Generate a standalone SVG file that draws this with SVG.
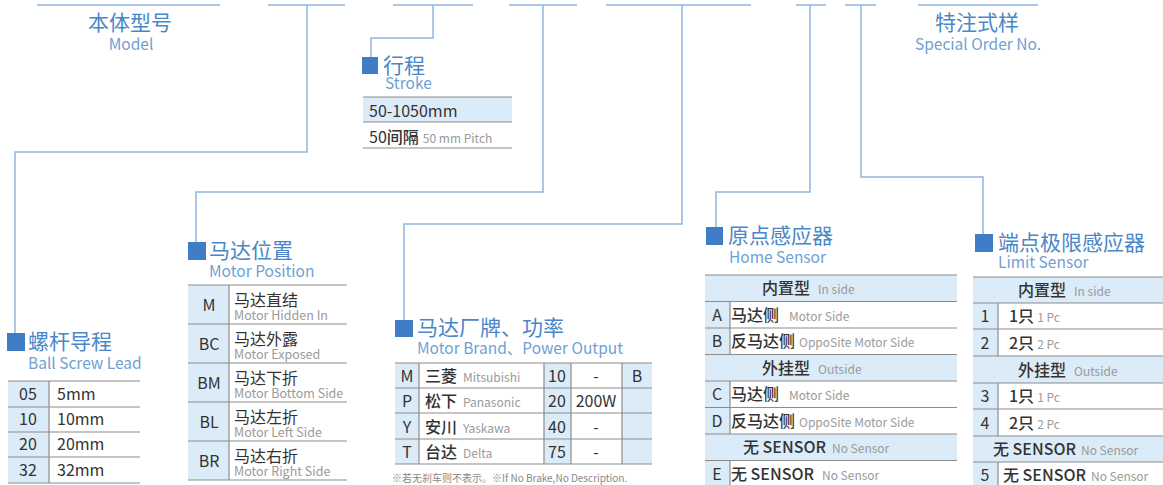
<svg xmlns="http://www.w3.org/2000/svg" width="1163" height="485" viewBox="0 0 1163 485">
<style>
text{font-family:"Noto Sans CJK SC","Noto Sans",sans-serif}
.ln{stroke:#8fb5de;stroke-width:1.5;fill:none}
.sq{fill:#3f7ec6}
.h1{font-size:21px;fill:#4a87c9}
.h2{font-size:15.5px;fill:#6f9fd4}
.bg{fill:#dcebf8}
.tl{stroke:#8c8c8c;stroke-width:1.2;fill:none}
.t{font-size:16px;fill:#333;font-weight:400}
.b{font-weight:500}
.e{font-size:12px;fill:#9a9a9a;font-weight:400}
.c{text-anchor:middle}
.note{font-size:10px;fill:#888}
</style>

<g id="connectors">
<path class="ln" d="M37,5H220M268,5H345M393,5H473M509,5H577M606,5H751M796,5H826M845,5H876M918,5H1038"/>
<path class="ln" d="M307,5V152H15V333"/>
<path class="ln" d="M433,5V38H371V57"/>
<path class="ln" d="M543,5V192H196V242"/>
<path class="ln" d="M682,5V224H404V320"/>
<path class="ln" d="M810,5V192H716V227"/>
<path class="ln" d="M861,5V177H983V234"/>
</g>

<g id="model">
<text class="h1 c" x="130" y="30">本体型号</text>
<text class="h2 c" x="131" y="50">Model</text>
</g>

<g id="special">
<text class="h1 c" x="977" y="30">特注式样</text>
<text class="h2 c" x="978" y="50">Special Order No.</text>
</g>

<g id="stroke">
<rect class="sq" x="362" y="57" width="16" height="17"/>
<text class="h1" x="383" y="73">行程</text>
<text class="h2" x="385" y="89">Stroke</text>
<rect class="bg" x="363" y="97" width="149" height="25"/>
<path class="tl" d="M363,97H512M363,122H512M363,148H512"/>
<text class="t" x="369" y="117">50-1050mm</text>
<text class="t" x="369" y="143">50<tspan class="b">间隔</tspan><tspan class="e" dx="4">50 mm Pitch</tspan></text>
</g>

<g id="ballscrew">
<rect class="sq" x="7" y="333" width="18" height="18"/>
<text class="h1" x="28" y="349">螺杆导程</text>
<text class="h2" x="28" y="369">Ball Screw Lead</text>
<rect class="bg" x="8" y="381" width="41" height="102"/>
<path class="tl" d="M8,381H140M8,407H140M8,432H140M8,457H140M8,483H140M49,381V483"/>
<g class="t">
<text class="c" x="28" y="400">05</text><text x="57" y="400">5mm</text>
<text class="c" x="28" y="425">10</text><text x="57" y="425">10mm</text>
<text class="c" x="28" y="450">20</text><text x="57" y="450">20mm</text>
<text class="c" x="28" y="476">32</text><text x="57" y="476">32mm</text>
</g>
</g>

<g id="motorposition">
<rect class="sq" x="188" y="242" width="18" height="18"/>
<text class="h1" x="209" y="258">马达位置</text>
<text class="h2" x="209" y="277">Motor Position</text>
<rect class="bg" x="188" y="285" width="41" height="195"/>
<path class="tl" d="M188,285H347M188,324H347M188,363H347M188,402H347M188,441H347M188,480H347M229,285V480"/>
<g class="t">
<text class="c" x="209" y="311">M</text>
<text x="234" y="306">马达直结</text>
<text class="c" x="209" y="350">BC</text>
<text x="234" y="345">马达外露</text>
<text class="c" x="209" y="389">BM</text>
<text x="234" y="384">马达下折</text>
<text class="c" x="209" y="428">BL</text>
<text x="234" y="423">马达左折</text>
<text class="c" x="209" y="467">BR</text>
<text x="234" y="462">马达右折</text>
</g>
<g class="e" style="font-size:12.5px">
<text x="234" y="320">Motor Hidden In</text>
<text x="234" y="359">Motor Exposed</text>
<text x="234" y="398">Motor Bottom Side</text>
<text x="234" y="437">Motor Left Side</text>
<text x="234" y="476">Motor Right Side</text>
</g>
</g>

<g id="motorbrand">
<rect class="sq" x="395" y="320" width="18" height="17"/>
<text class="h1" x="417" y="335">马达厂牌、功率</text>
<text class="h2" x="417" y="354">Motor Brand、Power Output</text>
<rect class="bg" x="395" y="363" width="24" height="101"/>
<rect class="bg" x="544" y="363" width="27" height="101"/>
<rect class="bg" x="622" y="363" width="30" height="101"/>
<path class="tl" d="M395,363H652M395,388H652M395,413H652M395,439H652M395,464H652M419,363V464M544,363V464M571,363V464M622,363V464"/>
<g class="t">
<text class="c" x="407" y="382">M</text><text class="b" x="425" y="382">三菱<tspan class="e" dx="6">Mitsubishi</tspan></text>
<text class="c" x="557" y="382">10</text><text class="c" x="596" y="382">-</text><text class="c" x="637" y="382">B</text>
<text class="c" x="407" y="407">P</text><text class="b" x="425" y="407">松下<tspan class="e" dx="6">Panasonic</tspan></text>
<text class="c" x="557" y="407">20</text><text class="c" x="596" y="407">200W</text>
<text class="c" x="407" y="433">Y</text><text class="b" x="425" y="433">安川<tspan class="e" dx="6">Yaskawa</tspan></text>
<text class="c" x="557" y="433">40</text><text class="c" x="596" y="433">-</text>
<text class="c" x="407" y="458">T</text><text class="b" x="425" y="458">台达<tspan class="e" dx="6">Delta</tspan></text>
<text class="c" x="557" y="458">75</text><text class="c" x="596" y="458">-</text>
</g>
<text class="note" x="392" y="482">※若无刹车则不表示。※If No Brake,No Description.</text>
</g>

<g id="homesensor">
<rect class="sq" x="706" y="227" width="17" height="18"/>
<text class="h1" x="728" y="243">原点感应器</text>
<text class="h2" x="729" y="263">Home Sensor</text>
<rect class="bg" x="705" y="275" width="252" height="26.5"/>
<rect class="bg" x="705" y="354.5" width="252" height="26.5"/>
<rect class="bg" x="705" y="434" width="252" height="26.5"/>
<rect class="bg" x="705" y="301.5" width="25" height="53"/>
<rect class="bg" x="705" y="381" width="25" height="53"/>
<rect class="bg" x="705" y="460.5" width="25" height="26"/>
<path class="tl" d="M705,275H957M705,301.5H957M705,328H957M705,354.5H957M705,381H957M705,407.5H957M705,434H957M705,460.5H957M730,301.5V354.5M730,381V434M730,460.5V487"/>
<g class="t">
<text class="b" x="762" y="294">内置型<tspan class="e" dx="8">In side</tspan></text>
<text class="c" x="717" y="321">A</text><text class="b" x="731" y="321">马达侧<tspan class="e" dx="10">Motor Side</tspan></text>
<text class="c" x="717" y="347">B</text><text class="b" x="731" y="347">反马达侧<tspan class="e" dx="4">OppoSite Motor Side</tspan></text>
<text class="b" x="762" y="374">外挂型<tspan class="e" dx="8">Outside</tspan></text>
<text class="c" x="717" y="400">C</text><text class="b" x="731" y="400">马达侧<tspan class="e" dx="10">Motor Side</tspan></text>
<text class="c" x="717" y="427">D</text><text class="b" x="731" y="427">反马达侧<tspan class="e" dx="4">OppoSite Motor Side</tspan></text>
<text class="b" x="743" y="453">无 SENSOR<tspan class="e" dx="6">No Sensor</tspan></text>
<text class="c" x="717" y="480">E</text><text class="b" x="731" y="480">无 SENSOR<tspan class="e" dx="8">No Sensor</tspan></text>
</g>
</g>

<g id="limitsensor">
<rect class="sq" x="975" y="234" width="18" height="18"/>
<text class="h1" x="998" y="250">端点极限感应器</text>
<text class="h2" x="998" y="268">Limit Sensor</text>
<rect class="bg" x="973" y="277" width="190" height="26"/>
<rect class="bg" x="973" y="356" width="190" height="27"/>
<rect class="bg" x="973" y="436" width="190" height="26"/>
<rect class="bg" x="973" y="303" width="25" height="53"/>
<rect class="bg" x="973" y="383" width="25" height="53"/>
<rect class="bg" x="973" y="462" width="25" height="26"/>
<path class="tl" d="M973,277H1163M973,303H1163M973,329H1163M973,356H1163M973,383H1163M973,409H1163M973,436H1163M973,462H1163M998,303V356M998,383V436M998,462V488"/>
<g class="t">
<text class="b" x="1018" y="296">内置型<tspan class="e" dx="8">In side</tspan></text>
<text class="c" x="985" y="322">1</text><text class="b" x="1009" y="322">1只<tspan class="e" dx="3">1 Pc</tspan></text>
<text class="c" x="985" y="349">2</text><text class="b" x="1009" y="349">2只<tspan class="e" dx="3">2 Pc</tspan></text>
<text class="b" x="1018" y="376">外挂型<tspan class="e" dx="8">Outside</tspan></text>
<text class="c" x="985" y="402">3</text><text class="b" x="1009" y="402">1只<tspan class="e" dx="3">1 Pc</tspan></text>
<text class="c" x="985" y="429">4</text><text class="b" x="1009" y="429">2只<tspan class="e" dx="3">2 Pc</tspan></text>
<text class="b" x="993" y="455">无 SENSOR<tspan class="e" dx="5">No Sensor</tspan></text>
<text class="c" x="985" y="481">5</text><text class="b" x="1003" y="481">无 SENSOR<tspan class="e" dx="5">No Sensor</tspan></text>
</g>
</g>
</svg>
